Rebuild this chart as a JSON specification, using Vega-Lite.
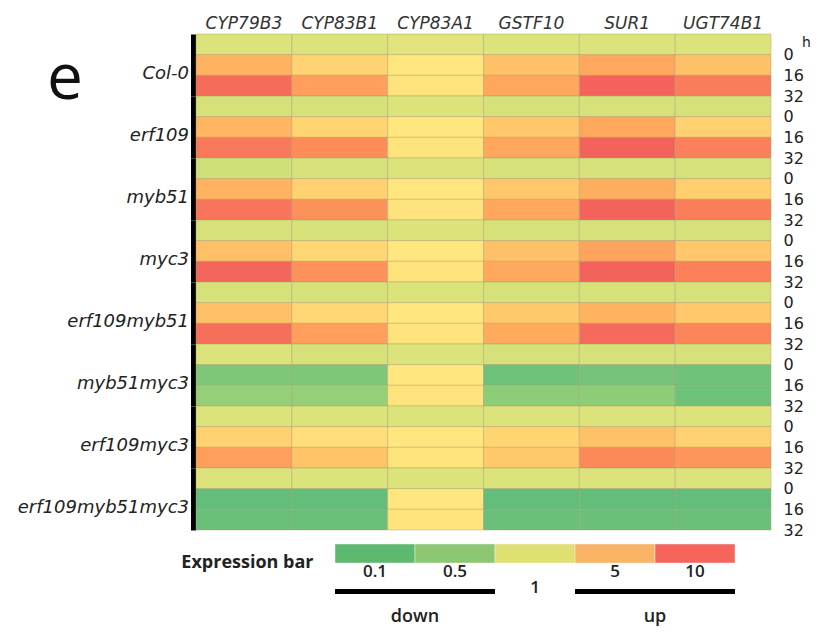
{
  "$schema": "https://vega.github.io/schema/vega-lite/v6.json",
  "background": "white",
  "padding": {"left": 17, "top": 14, "right": 5, "bottom": 5},
  "config": {"view": {"stroke": null}},
  "title": {"text": "e", "orient": "none", "anchor": "start", "font": "Open Sans", "fontSize": 64, "fontWeight": "normal", "color": "#111", "baseline": "alphabetic", "dx": -149, "dy": 65},
  "datasets": {
    "heat": [
      {"g":"Col-0","t":"0","gene":"CYP79B3","fc":0.6},{"g":"Col-0","t":"0","gene":"CYP83B1","fc":0.6},{"g":"Col-0","t":"0","gene":"CYP83A1","fc":0.65},{"g":"Col-0","t":"0","gene":"GSTF10","fc":0.6},{"g":"Col-0","t":"0","gene":"SUR1","fc":0.6},{"g":"Col-0","t":"0","gene":"UGT74B1","fc":0.6},
      {"g":"Col-0","t":"16","gene":"CYP79B3","fc":2.7},{"g":"Col-0","t":"16","gene":"CYP83B1","fc":1.55},{"g":"Col-0","t":"16","gene":"CYP83A1","fc":1.1},{"g":"Col-0","t":"16","gene":"GSTF10","fc":2.1},{"g":"Col-0","t":"16","gene":"SUR1","fc":3.3},{"g":"Col-0","t":"16","gene":"UGT74B1","fc":2.1},
      {"g":"Col-0","t":"32","gene":"CYP79B3","fc":8.7},{"g":"Col-0","t":"32","gene":"CYP83B1","fc":3.8},{"g":"Col-0","t":"32","gene":"CYP83A1","fc":1.15},{"g":"Col-0","t":"32","gene":"GSTF10","fc":3.3},{"g":"Col-0","t":"32","gene":"SUR1","fc":11},{"g":"Col-0","t":"32","gene":"UGT74B1","fc":6.6},
      {"g":"erf109","t":"0","gene":"CYP79B3","fc":0.55},{"g":"erf109","t":"0","gene":"CYP83B1","fc":0.55},{"g":"erf109","t":"0","gene":"CYP83A1","fc":0.6},{"g":"erf109","t":"0","gene":"GSTF10","fc":0.55},{"g":"erf109","t":"0","gene":"SUR1","fc":0.55},{"g":"erf109","t":"0","gene":"UGT74B1","fc":0.55},
      {"g":"erf109","t":"16","gene":"CYP79B3","fc":2.6},{"g":"erf109","t":"16","gene":"CYP83B1","fc":1.5},{"g":"erf109","t":"16","gene":"CYP83A1","fc":1.1},{"g":"erf109","t":"16","gene":"GSTF10","fc":1.9},{"g":"erf109","t":"16","gene":"SUR1","fc":3.3},{"g":"erf109","t":"16","gene":"UGT74B1","fc":1.6},
      {"g":"erf109","t":"32","gene":"CYP79B3","fc":7},{"g":"erf109","t":"32","gene":"CYP83B1","fc":5.2},{"g":"erf109","t":"32","gene":"CYP83A1","fc":1.15},{"g":"erf109","t":"32","gene":"GSTF10","fc":3.3},{"g":"erf109","t":"32","gene":"SUR1","fc":10.5},{"g":"erf109","t":"32","gene":"UGT74B1","fc":6.3},
      {"g":"myb51","t":"0","gene":"CYP79B3","fc":0.5},{"g":"myb51","t":"0","gene":"CYP83B1","fc":0.55},{"g":"myb51","t":"0","gene":"CYP83A1","fc":0.6},{"g":"myb51","t":"0","gene":"GSTF10","fc":0.55},{"g":"myb51","t":"0","gene":"SUR1","fc":0.55},{"g":"myb51","t":"0","gene":"UGT74B1","fc":0.55},
      {"g":"myb51","t":"16","gene":"CYP79B3","fc":2.7},{"g":"myb51","t":"16","gene":"CYP83B1","fc":1.6},{"g":"myb51","t":"16","gene":"CYP83A1","fc":1.1},{"g":"myb51","t":"16","gene":"GSTF10","fc":1.9},{"g":"myb51","t":"16","gene":"SUR1","fc":3},{"g":"myb51","t":"16","gene":"UGT74B1","fc":1.7},
      {"g":"myb51","t":"32","gene":"CYP79B3","fc":7.7},{"g":"myb51","t":"32","gene":"CYP83B1","fc":4.8},{"g":"myb51","t":"32","gene":"CYP83A1","fc":1.15},{"g":"myb51","t":"32","gene":"GSTF10","fc":3.3},{"g":"myb51","t":"32","gene":"SUR1","fc":11},{"g":"myb51","t":"32","gene":"UGT74B1","fc":6.5},
      {"g":"myc3","t":"0","gene":"CYP79B3","fc":0.55},{"g":"myc3","t":"0","gene":"CYP83B1","fc":0.55},{"g":"myc3","t":"0","gene":"CYP83A1","fc":0.6},{"g":"myc3","t":"0","gene":"GSTF10","fc":0.55},{"g":"myc3","t":"0","gene":"SUR1","fc":0.55},{"g":"myc3","t":"0","gene":"UGT74B1","fc":0.55},
      {"g":"myc3","t":"16","gene":"CYP79B3","fc":2.2},{"g":"myc3","t":"16","gene":"CYP83B1","fc":1.45},{"g":"myc3","t":"16","gene":"CYP83A1","fc":1.1},{"g":"myc3","t":"16","gene":"GSTF10","fc":2.1},{"g":"myc3","t":"16","gene":"SUR1","fc":3.5},{"g":"myc3","t":"16","gene":"UGT74B1","fc":1.9},
      {"g":"myc3","t":"32","gene":"CYP79B3","fc":9.6},{"g":"myc3","t":"32","gene":"CYP83B1","fc":4.7},{"g":"myc3","t":"32","gene":"CYP83A1","fc":1.15},{"g":"myc3","t":"32","gene":"GSTF10","fc":3.2},{"g":"myc3","t":"32","gene":"SUR1","fc":12},{"g":"myc3","t":"32","gene":"UGT74B1","fc":6.3},
      {"g":"erf109myb51","t":"0","gene":"CYP79B3","fc":0.55},{"g":"erf109myb51","t":"0","gene":"CYP83B1","fc":0.55},{"g":"erf109myb51","t":"0","gene":"CYP83A1","fc":0.6},{"g":"erf109myb51","t":"0","gene":"GSTF10","fc":0.55},{"g":"erf109myb51","t":"0","gene":"SUR1","fc":0.55},{"g":"erf109myb51","t":"0","gene":"UGT74B1","fc":0.55},
      {"g":"erf109myb51","t":"16","gene":"CYP79B3","fc":2.2},{"g":"erf109myb51","t":"16","gene":"CYP83B1","fc":1.45},{"g":"erf109myb51","t":"16","gene":"CYP83A1","fc":1.1},{"g":"erf109myb51","t":"16","gene":"GSTF10","fc":1.85},{"g":"erf109myb51","t":"16","gene":"SUR1","fc":2.7},{"g":"erf109myb51","t":"16","gene":"UGT74B1","fc":1.9},
      {"g":"erf109myb51","t":"32","gene":"CYP79B3","fc":8.3},{"g":"erf109myb51","t":"32","gene":"CYP83B1","fc":3.8},{"g":"erf109myb51","t":"32","gene":"CYP83A1","fc":1.15},{"g":"erf109myb51","t":"32","gene":"GSTF10","fc":3.1},{"g":"erf109myb51","t":"32","gene":"SUR1","fc":8.9},{"g":"erf109myb51","t":"32","gene":"UGT74B1","fc":5.8},
      {"g":"myb51myc3","t":"0","gene":"CYP79B3","fc":0.6},{"g":"myb51myc3","t":"0","gene":"CYP83B1","fc":0.55},{"g":"myb51myc3","t":"0","gene":"CYP83A1","fc":0.6},{"g":"myb51myc3","t":"0","gene":"GSTF10","fc":0.55},{"g":"myb51myc3","t":"0","gene":"SUR1","fc":0.55},{"g":"myb51myc3","t":"0","gene":"UGT74B1","fc":0.55},
      {"g":"myb51myc3","t":"16","gene":"CYP79B3","fc":0.15},{"g":"myb51myc3","t":"16","gene":"CYP83B1","fc":0.15},{"g":"myb51myc3","t":"16","gene":"CYP83A1","fc":1.1},{"g":"myb51myc3","t":"16","gene":"GSTF10","fc":0.12},{"g":"myb51myc3","t":"16","gene":"SUR1","fc":0.13},{"g":"myb51myc3","t":"16","gene":"UGT74B1","fc":0.12},
      {"g":"myb51myc3","t":"32","gene":"CYP79B3","fc":0.21},{"g":"myb51myc3","t":"32","gene":"CYP83B1","fc":0.21},{"g":"myb51myc3","t":"32","gene":"CYP83A1","fc":1.15},{"g":"myb51myc3","t":"32","gene":"GSTF10","fc":0.19},{"g":"myb51myc3","t":"32","gene":"SUR1","fc":0.19},{"g":"myb51myc3","t":"32","gene":"UGT74B1","fc":0.12},
      {"g":"erf109myc3","t":"0","gene":"CYP79B3","fc":0.6},{"g":"erf109myc3","t":"0","gene":"CYP83B1","fc":0.6},{"g":"erf109myc3","t":"0","gene":"CYP83A1","fc":0.6},{"g":"erf109myc3","t":"0","gene":"GSTF10","fc":0.6},{"g":"erf109myc3","t":"0","gene":"SUR1","fc":0.6},{"g":"erf109myc3","t":"0","gene":"UGT74B1","fc":0.6},
      {"g":"erf109myc3","t":"16","gene":"CYP79B3","fc":1.6},{"g":"erf109myc3","t":"16","gene":"CYP83B1","fc":1.3},{"g":"erf109myc3","t":"16","gene":"CYP83A1","fc":1.1},{"g":"erf109myc3","t":"16","gene":"GSTF10","fc":1.5},{"g":"erf109myc3","t":"16","gene":"SUR1","fc":2.1},{"g":"erf109myc3","t":"16","gene":"UGT74B1","fc":1.6},
      {"g":"erf109myc3","t":"32","gene":"CYP79B3","fc":3.8},{"g":"erf109myc3","t":"32","gene":"CYP83B1","fc":2},{"g":"erf109myc3","t":"32","gene":"CYP83A1","fc":1.15},{"g":"erf109myc3","t":"32","gene":"GSTF10","fc":1.85},{"g":"erf109myc3","t":"32","gene":"SUR1","fc":5.4},{"g":"erf109myc3","t":"32","gene":"UGT74B1","fc":4.5},
      {"g":"erf109myb51myc3","t":"0","gene":"CYP79B3","fc":0.6},{"g":"erf109myb51myc3","t":"0","gene":"CYP83B1","fc":0.6},{"g":"erf109myb51myc3","t":"0","gene":"CYP83A1","fc":0.6},{"g":"erf109myb51myc3","t":"0","gene":"GSTF10","fc":0.6},{"g":"erf109myb51myc3","t":"0","gene":"SUR1","fc":0.6},{"g":"erf109myb51myc3","t":"0","gene":"UGT74B1","fc":0.6},
      {"g":"erf109myb51myc3","t":"16","gene":"CYP79B3","fc":0.1},{"g":"erf109myb51myc3","t":"16","gene":"CYP83B1","fc":0.1},{"g":"erf109myb51myc3","t":"16","gene":"CYP83A1","fc":1.1},{"g":"erf109myb51myc3","t":"16","gene":"GSTF10","fc":0.1},{"g":"erf109myb51myc3","t":"16","gene":"SUR1","fc":0.1},{"g":"erf109myb51myc3","t":"16","gene":"UGT74B1","fc":0.1},
      {"g":"erf109myb51myc3","t":"32","gene":"CYP79B3","fc":0.11},{"g":"erf109myb51myc3","t":"32","gene":"CYP83B1","fc":0.11},{"g":"erf109myb51myc3","t":"32","gene":"CYP83A1","fc":1.15},{"g":"erf109myb51myc3","t":"32","gene":"GSTF10","fc":0.11},{"g":"erf109myb51myc3","t":"32","gene":"SUR1","fc":0.11},{"g":"erf109myb51myc3","t":"32","gene":"UGT74B1","fc":0.11}
    ],
    "legend": [
      {"item":"0.1","row":"color","kind":"box"},
      {"item":"0.5","row":"color","kind":"box"},
      {"item":"1","row":"color","kind":"box"},
      {"item":"5","row":"color","kind":"box"},
      {"item":"10","row":"color","kind":"box"},
      {"item":"0.1","row":"label","kind":"num","label":"0.1"},
      {"item":"0.5","row":"label","kind":"num","label":"0.5"},
      {"item":"5","row":"label","kind":"num","label":"5"},
      {"item":"10","row":"label","kind":"num","label":"10"},
      {"item":"1","row":"bar","kind":"one","label":"1"},
      {"item":"0.1","row":"bar","kind":"bar"},
      {"item":"0.5","row":"bar","kind":"bar"},
      {"item":"5","row":"bar","kind":"bar"},
      {"item":"10","row":"bar","kind":"bar"},
      {"item":"0.5","row":"word","kind":"word","label":"down"},
      {"item":"10","row":"word","kind":"word","label":"up"}
    ]
  },
  "spacing": 4,
  "resolve": {"scale": {"color": "independent", "x": "independent", "y": "independent"}},
  "vconcat": [
    {
      "data": {"name": "heat"},
      "facet": {
        "row": {
          "field": "g", "type": "nominal",
          "sort": ["Col-0","erf109","myb51","myc3","erf109myb51","myb51myc3","erf109myc3","erf109myb51myc3"],
          "header": {"title": null, "labelAngle": 0, "labelOrient": "left", "labelAlign": "left", "labelBaseline": "top", "labelFont": "DejaVu Sans", "labelFontStyle": "italic", "labelFontSize": 18, "labelColor": "#222", "labelPadding": 4}
        }
      },
      "spacing": 0,
      "bounds": "flush",
      "spec": {
        "width": 575,
        "height": 62,
        "encoding": {
          "x": {
            "field": "gene", "type": "nominal",
            "sort": ["CYP79B3","CYP83B1","CYP83A1","GSTF10","SUR1","UGT74B1"],
            "scale": {"paddingInner": 0, "paddingOuter": 0},
            "axis": {"orient": "top", "title": "h", "titleX": 610, "titleY": 8, "titleAlign": "center", "titleBaseline": "middle", "titleFont": "DejaVu Sans", "titleFontSize": 14, "titleFontWeight": "normal", "titleColor": "#222", "ticks": false, "domain": false, "labelAngle": 0, "labelPadding": 2, "labelFont": "DejaVu Sans", "labelFontStyle": "italic", "labelFontSize": 17, "labelColor": "#333"}
          }
        },
        "layer": [
          {
            "mark": {"type": "rect", "opacity": 0},
            "encoding": {
              "y": {"field": "t", "type": "ordinal", "sort": ["0","16","32"], "scale": {"paddingInner": 0, "paddingOuter": 0},
                "axis": {"orient": "left", "labels": false, "ticks": false, "title": null, "domainColor": "black", "domainWidth": 5, "offset": 3}}
            }
          },
          {
            "mark": {"type": "rect", "stroke": "#a89c6c", "strokeWidth": 0.7, "strokeOpacity": 0.6},
            "encoding": {
              "y": {"field": "t", "type": "ordinal", "sort": ["0","16","32"],
                "axis": {"orient": "right", "title": null, "ticks": false, "domain": false, "labelOffset": 11, "labelPadding": 12, "labelFont": "DejaVu Sans", "labelFontSize": 16, "labelColor": "#222"}},
              "color": {"field": "fc", "type": "quantitative", "scale": {"type": "log", "domain": [0.1, 1, 10], "range": ["#63BE7B", "#FFEB84", "#F3635C"], "clamp": true}, "legend": null}
            }
          }
        ],
        "resolve": {"axis": {"y": "independent"}}
      }
    },
    {
      "data": {"name": "legend"},
      "width": 575,
      "height": 76,
      "encoding": {
        "x": {"field": "item", "type": "nominal", "scale": {"domain": ["0.1","0.5","1","5","10"], "range": [139, 539], "paddingInner": 0, "paddingOuter": 0}, "axis": null},
        "y": {"field": "row", "type": "nominal", "scale": {"domain": ["color","label","bar","word"], "paddingInner": 0, "paddingOuter": 0},
          "axis": {"orient": "left", "offset": -120, "domain": false, "ticks": false, "title": null, "labelExpr": "datum.value === 'color' ? 'Expression bar' : ''", "labelFont": "Open Sans", "labelFontWeight": "bold", "labelFontSize": 18, "labelColor": "#222", "labelOffset": 9, "labelPadding": 3}}
      },
      "layer": [
        {
          "transform": [{"filter": "datum.kind === 'box'"}],
          "mark": {"type": "rect", "stroke": "#ededed", "strokeWidth": 0.5},
          "encoding": {"color": {"field": "item", "type": "nominal", "scale": {"domain": ["0.1","0.5","1","5","10"], "range": ["#5cb96f", "#8dc772", "#dfdf72", "#fab466", "#f5655b"]}, "legend": null}}
        },
        {
          "transform": [{"filter": "datum.kind === 'bar'"}],
          "mark": {"type": "rect", "color": "black", "height": 5},
          "encoding": {}
        },
        {
          "transform": [{"filter": "datum.kind === 'num'"}],
          "mark": {"type": "text", "font": "Open Sans", "fontWeight": 600, "fontSize": 17, "color": "#222", "dy": -1},
          "encoding": {"text": {"field": "label"}}
        },
        {
          "transform": [{"filter": "datum.kind === 'one'"}],
          "mark": {"type": "text", "font": "Open Sans", "fontWeight": 600, "fontSize": 17, "color": "#222", "dy": -4},
          "encoding": {"text": {"field": "label"}}
        },
        {
          "transform": [{"filter": "datum.kind === 'word'"}],
          "mark": {"type": "text", "font": "Open Sans", "fontWeight": 600, "fontSize": 18, "color": "#222", "dy": 6},
          "encoding": {"x": {"field": "item", "type": "nominal", "bandPosition": 0}, "text": {"field": "label"}}
        }
      ]
    }
  ]
}
